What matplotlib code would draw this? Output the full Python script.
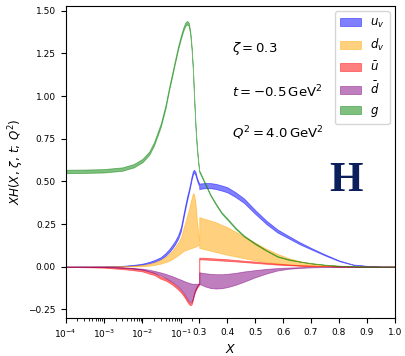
import numpy as np
import matplotlib
matplotlib.use("Agg")
import matplotlib.pyplot as plt


# -----------------------------------------
# kinematics
# -----------------------------------------
zeta = 0.3

# x < zeta  (log part of the axis)
x_low = [1e-4, 3e-4, 1e-3, 3e-3, 6e-3, 1e-2, 1.5e-2, 2e-2, 3e-2, 4e-2, 5e-2,
         6e-2, 7e-2, 8.5e-2, 0.1, 0.115, 0.13, 0.145, 0.16, 0.175, 0.19,
         0.205, 0.22, 0.24, 0.26, 0.28, 0.3]
# x > zeta  (linear part of the axis)
x_high = [0.3, 0.32, 0.34, 0.36, 0.38, 0.4, 0.43, 0.46, 0.5, 0.54, 0.58,
          0.62, 0.66, 0.7, 0.75, 0.8, 0.85, 0.9, 0.95, 1.0]

# -----------------------------------------
# xH bands (lower / upper edge)
# -----------------------------------------
uv_low_lo = [0.0, 0.0, 0.0, 0.003, 0.007, 0.012, 0.02, 0.028, 0.044, 0.064, 0.086,
             0.108, 0.13, 0.164, 0.208, 0.278, 0.338, 0.388, 0.43, 0.47, 0.51,
             0.54, 0.552, 0.535, 0.507, 0.487, 0.472]
uv_low_hi = [0.0, 0.001, 0.002, 0.005, 0.011, 0.018, 0.028, 0.038, 0.056, 0.08, 0.104,
             0.128, 0.15, 0.186, 0.232, 0.302, 0.362, 0.412, 0.45, 0.49, 0.53,
             0.56, 0.568, 0.555, 0.523, 0.503, 0.488]
uv_high_lo = [0.455, 0.46, 0.46, 0.455, 0.446, 0.436, 0.408, 0.374, 0.31, 0.25, 0.2,
              0.166, 0.131, 0.102, 0.066, 0.033, 0.011, 0.003, 0.0, 0.0]
uv_high_hi = [0.487, 0.49, 0.49, 0.485, 0.476, 0.466, 0.436, 0.4, 0.332, 0.27, 0.218,
              0.18, 0.143, 0.11, 0.072, 0.037, 0.013, 0.005, 0.001, 0.0]

dv_low_lo = [0.0, 0.0, 0.0, 0.001, 0.002, 0.003, 0.006, 0.01, 0.018, 0.027, 0.035,
             0.045, 0.055, 0.068, 0.08, 0.09, 0.097, 0.1, 0.104, 0.107, 0.11,
             0.112, 0.115, 0.118, 0.122, 0.126, 0.13]
dv_low_hi = [0.0, 0.0, 0.001, 0.003, 0.006, 0.01, 0.016, 0.024, 0.04, 0.058, 0.075,
             0.095, 0.115, 0.142, 0.17, 0.22, 0.26, 0.3, 0.33, 0.37, 0.4,
             0.43, 0.425, 0.37, 0.28, 0.2, 0.15]
dv_high_lo = [0.11, 0.102, 0.094, 0.086, 0.078, 0.07, 0.06, 0.05, 0.037, 0.027, 0.019,
              0.013, 0.008, 0.005, 0.003, 0.001, 0.0, 0.0, 0.0, 0.0]
dv_high_hi = [0.29, 0.28, 0.27, 0.26, 0.245, 0.232, 0.205, 0.178, 0.14, 0.105, 0.075,
              0.05, 0.032, 0.02, 0.01, 0.005, 0.002, 0.0005, 0.0, 0.0]

ubar_low_lo = [-0.001, -0.003, -0.006, -0.014, -0.021, -0.028, -0.041, -0.048, -0.071, -0.081, -0.094,
               -0.106, -0.118, -0.134, -0.151, -0.168, -0.186, -0.204, -0.218, -0.226, -0.221,
               -0.196, -0.166, -0.141, -0.126, -0.114, -0.106]
ubar_low_hi = [0.0, 0.0, 0.0, -0.004, -0.009, -0.016, -0.029, -0.036, -0.059, -0.069, -0.082,
               -0.094, -0.106, -0.122, -0.139, -0.156, -0.174, -0.192, -0.206, -0.214, -0.209,
               -0.184, -0.154, -0.129, -0.114, -0.102, -0.094]
ubar_high_lo = [0.043, 0.042, 0.04, 0.038, 0.036, 0.034, 0.031, 0.027, 0.022, 0.017, 0.012,
                0.009, 0.005, 0.003, 0.002, 0.0, 0.0, 0.0, 0.0, 0.0]
ubar_high_hi = [0.053, 0.052, 0.05, 0.048, 0.046, 0.044, 0.039, 0.035, 0.03, 0.023, 0.018,
                0.013, 0.009, 0.007, 0.004, 0.002, 0.0, 0.0, 0.0, 0.0]

dbar_low_lo = [0.0, -0.001, -0.002, -0.006, -0.012, -0.018, -0.027, -0.036, -0.052, -0.066, -0.079,
               -0.09, -0.101, -0.117, -0.133, -0.15, -0.168, -0.186, -0.2, -0.208, -0.205,
               -0.185, -0.16, -0.135, -0.12, -0.108, -0.1]
dbar_low_hi = [0.0, 0.0, -0.001, -0.004, -0.008, -0.012, -0.018, -0.024, -0.034, -0.042, -0.05,
               -0.056, -0.062, -0.07, -0.076, -0.082, -0.087, -0.091, -0.094, -0.097, -0.099,
               -0.1, -0.1, -0.1, -0.1, -0.1, -0.1]
dbar_high_lo = [-0.1, -0.115, -0.125, -0.128, -0.126, -0.12, -0.106, -0.088, -0.062, -0.04, -0.022,
                -0.012, -0.007, -0.004, -0.002, -0.001, 0.0, 0.0, 0.0, 0.0]
dbar_high_hi = [-0.033, -0.038, -0.042, -0.044, -0.044, -0.042, -0.036, -0.028, -0.02, -0.013, -0.008,
                -0.005, -0.003, -0.002, -0.001, 0.0, 0.0, 0.0, 0.0, 0.0]

g_low_lo = [0.548, 0.549, 0.552, 0.562, 0.582, 0.612, 0.655, 0.71, 0.82, 0.93, 1.04,
            1.12, 1.19, 1.275, 1.335, 1.38, 1.41, 1.42, 1.41, 1.36, 1.27,
            1.15, 0.99, 0.81, 0.69, 0.612, 0.555]
g_low_hi = [0.568, 0.569, 0.572, 0.582, 0.602, 0.632, 0.675, 0.73, 0.84, 0.95, 1.06,
            1.14, 1.21, 1.295, 1.355, 1.4, 1.43, 1.44, 1.43, 1.38, 1.29,
            1.17, 1.01, 0.83, 0.71, 0.628, 0.565]
g_high_lo = [0.555, 0.486, 0.416, 0.361, 0.311, 0.276, 0.221, 0.177, 0.132, 0.093, 0.058,
             0.04, 0.029, 0.019, 0.01, 0.004, 0.001, 0.0, 0.0, 0.0]
g_high_hi = [0.565, 0.494, 0.424, 0.369, 0.319, 0.284, 0.229, 0.183, 0.138, 0.097, 0.062,
             0.044, 0.031, 0.021, 0.012, 0.006, 0.003, 0.001, 0.0, 0.0]

labels = [r"$u_v$", r"$d_v$", r"$\bar{u}$", r"$\bar{d}$", r"$g$"]
colors = ["blue", "orange", "red", "purple", "green"]

bands = [
    (uv_low_lo + uv_high_lo, uv_low_hi + uv_high_hi),
    (dv_low_lo + dv_high_lo, dv_low_hi + dv_high_hi),
    (ubar_low_lo + ubar_high_lo, ubar_low_hi + ubar_high_hi),
    (dbar_low_lo + dbar_high_lo, dbar_low_hi + dbar_high_hi),
    (g_low_lo + g_high_lo, g_low_hi + g_high_hi),
]
x_all = np.array(x_low + x_high)


# -----------------------------------------
# log axis up to zeta, linear above it
# -----------------------------------------
K = 280.0 / 38.5  # linear units per decade
L = np.log10(zeta / 1e-4)


def forward(x):
    x = np.asarray(x, dtype=float)
    lg = np.log10(np.clip(x, 1e-12, None)) + 4
    return np.where(x < zeta, lg, L + (x - zeta) * K)


def inverse(u):
    u = np.asarray(u, dtype=float)
    return np.where(u < L, 10 ** (np.minimum(u, L) - 4), zeta + (u - L) / K)


# -----------------------------------------
# PLOT
# -----------------------------------------
fig = plt.figure(figsize=(4.05, 3.56), dpi=100)
ax = fig.add_axes([0.162, 0.107, 0.813, 0.876])
ax.set_xscale("function", functions=(forward, inverse))

for (lo, hi), c, lab in zip(bands, colors, labels):
    ax.fill_between(x_all, lo, hi, color=c, alpha=0.5, lw=0.6, label=lab)

ax.set_xlim(1e-4, 1.0)
ax.set_ylim(-0.30, 1.527)

major = [1e-4, 1e-3, 1e-2, 1e-1, 0.3, 0.4, 0.5, 0.6, 0.7, 0.8, 0.9, 1.0]
major_lab = [r"$10^{-4}$", r"$10^{-3}$", r"$10^{-2}$", r"$10^{-1}$",
             "0.3", "0.4", "0.5", "0.6", "0.7", "0.8", "0.9", "1.0"]
minor = [k * 10.0 ** e for e in (-4, -3, -2) for k in range(2, 10)] + [0.2]
ax.set_xticks(major)
ax.set_xticklabels(major_lab)
ax.set_xticks(minor, minor=True)
ax.set_yticks([-0.25, 0.0, 0.25, 0.5, 0.75, 1.0, 1.25, 1.5])
ax.tick_params(axis="both", which="major", labelsize=6.5, length=3.5, width=0.8)
ax.tick_params(axis="x", which="minor", length=2, width=0.6)

ax.set_xlabel(r"$X$", fontsize=9, labelpad=2)
ax.set_ylabel(r"$XH(X,\,\zeta,\,t;\,Q^2)$", fontsize=8.5, labelpad=2)

ax.text(0.505, 0.865, r"$\zeta = 0.3$", transform=ax.transAxes,
        fontsize=9.5, va="center")
ax.text(0.505, 0.724, r"$t = -0.5\,\mathrm{GeV}^2$", transform=ax.transAxes,
        fontsize=9.5, va="center")
ax.text(0.505, 0.593, r"$Q^2 = 4.0\,\mathrm{GeV}^2$", transform=ax.transAxes,
        fontsize=9.5, va="center")
ax.text(0.851, 0.44, "H", transform=ax.transAxes, fontsize=31,
        fontweight="bold", family="Liberation Serif", color="#0b1f5c",
        ha="center", va="center")

ax.legend(loc="upper right", fontsize=8.5, handlelength=1.8, labelspacing=0.6,
          borderaxespad=0.45)

fig.savefig("out.png", dpi=100)
